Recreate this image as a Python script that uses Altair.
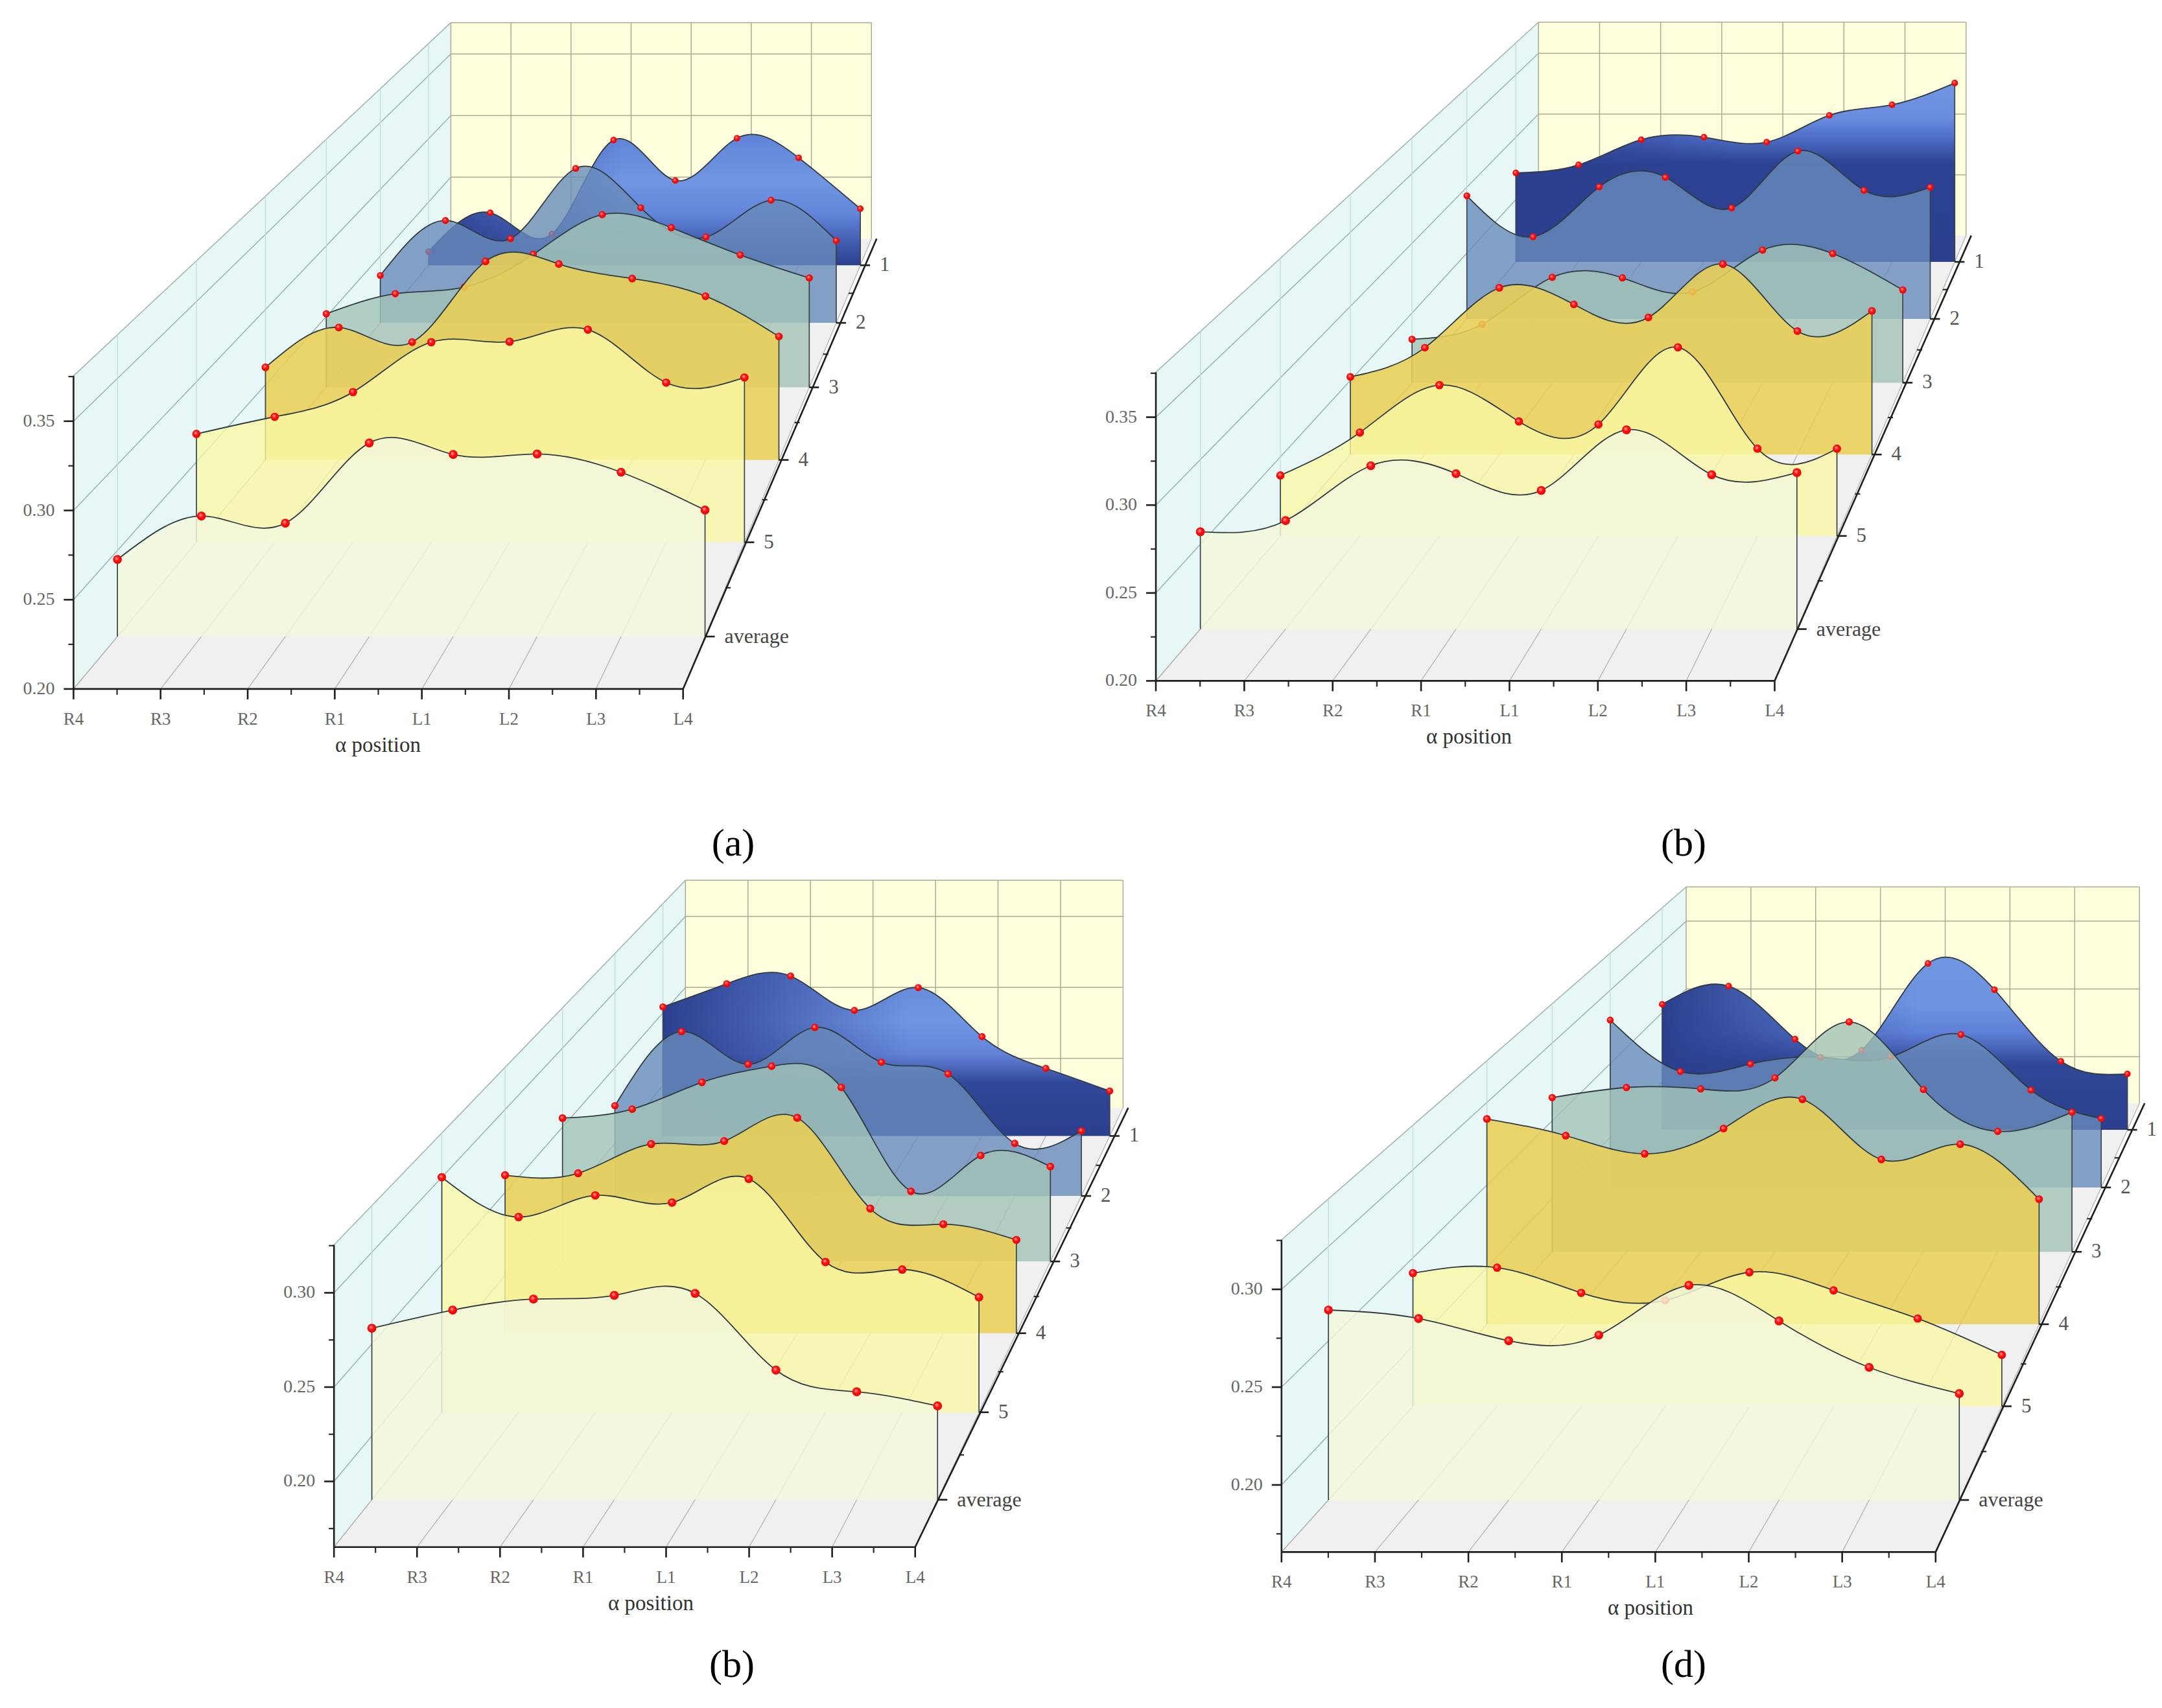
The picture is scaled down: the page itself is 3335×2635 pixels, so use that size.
import math
import altair as alt
import pandas as pd

POSITIONS = ["R4", "R3", "R2", "R1", "L1", "L2", "L3", "L4"]
SERIES = ["1", "2", "3", "4", "5", "average"]
PANEL_LABELS = ["(a)", "(b)", "(b)", "(d)"]

a_1 = [.2108, .2415, .2247, .2990, .2670, .3005, .2850, .2447]
a_2 = [.2355, .2767, .2631, .3157, .2862, .2643, .2919, .2616]
a_3 = [.2520, .2662, .2708, .2940, .3221, .3129, .2936, .2773]
a_4 = [.2616, .2881, .2784, .3320, .3303, .3206, .3089, .2821]
a_5 = [.2675, .2782, .2936, .3247, .3250, .3325, .2995, .3027]
a_avg = [.2448, .2700, .2659, .3125, .3058, .3061, .2955, .2735]

b_1 = [.2713, .2778, .2980, .3000, .2960, .3175, .3260, .3434]
b_2 = [.2935, .2624, .3003, .3076, .2843, .3275, .2977, .3000]
b_3 = [.2311, .2419, .2756, .2752, .2651, .2951, .2926, .2665]
b_4 = [.2524, .2721, .3125, .3013, .2925, .3285, .2833, .2969]
b_5 = [.2383, .2654, .2954, .2724, .2705, .3193, .2552, .2552]
b_avg = [.2574, .2640, .2964, .2917, .2818, .3176, .2911, .2923]

c_1 = [.2542, .2702, .2755, .2518, .2675, .2337, .2118, .1962]
c_2 = [.2248, .2738, .2522, .2765, .2535, .2458, .1999, .2082]
c_3 = [.2557, .2614, .2783, .2885, .2751, .2095, .2321, .2251]
c_4 = [.2604, .2616, .2792, .2810, .2950, .2403, .2309, .2214]
c_5 = [.3000, .2772, .2896, .2855, .2991, .2514, .2471, .2312]
c_avg = [.2586, .2685, .2745, .2765, .2776, .2358, .2240, .2163]

d_1 = [.2559, .2690, .2309, .2229, .2853, .2664, .2150, .2059]
d_2 = [.2797, .2447, .2498, .2543, .2546, .2698, .2320, .2127]
d_3 = [.2649, .2714, .2705, .2776, .3136, .2701, .2432, .2555]
d_4 = [.2900, .2799, .2689, .2842, .3019, .2655, .2747, .2414]
d_5 = [.2413, .2444, .2301, .2258, .2418, .2315, .2155, .1949]
d_avg = [.2664, .2619, .2501, .2531, .2795, .2606, .2360, .2221]

PANELS = [
    dict(ox=113.4, oy=1062.9, w=940.3, per=137.7, vmin=.20, vmax=.3754, vx=1991, vy=-1178, sb=.690,
         data=[a_1, a_2, a_3, a_4, a_5, a_avg],
         stops=[(0, "#5F83D8"), (.35, "#7196E2"), (.6, "#6386DA"), (.8, "#4462B6"), (1, "#2B3F8E")], fade=.45,
         label=(1131, 1302), title_x=583),
    dict(ox=1783, oy=1050.4, w=954.5, per=135.6, vmin=.20, vmax=.3756, vx=3693, vy=-1173, sb=.691,
         data=[b_1, b_2, b_3, b_4, b_5, b_avg],
         stops=[(0, "#7096E0"), (.2, "#6A8CE0"), (.3, "#4F6FC8"), (.45, "#2C4292"), (1, "#2B3F8E")], fade=.5,
         label=(2597, 1302), title_x=2266),
    dict(ox=515.2, oy=2386.7, w=896.5, per=145.5, vmin=.1652, vmax=.3254, vx=2710, vy=-356.7, sb=.753,
         data=[c_1, c_2, c_3, c_4, c_5, c_avg],
         stops=[(0, "#6487DC"), (.3, "#7096E2"), (.5, "#6282D8"), (.68, "#2F4796"), (1, "#2B3F8E")], fade=.55,
         label=(1129, 2569), title_x=1004),
    dict(ox=1976.8, oy=2394.4, w=1009, per=150.9, vmin=.1657, vmax=.3253, vx=4010, vy=139, sb=.693,
         data=[d_1, d_2, d_3, d_4, d_5, d_avg],
         stops=[(0, "#7096E2"), (.28, "#6E94E2"), (.44, "#5E7FD6"), (.62, "#2F4796"), (1, "#2B3F8E")], fade=.55,
         label=(2597, 2569), title_x=2546),
]

RIBBON = [None, ("#688BBA", .8), ("#A2C3B6", .8), ("#E9CF55", .88), ("#FAF8A6", .8), ("#F3F7DA", .85)]

xs = alt.Scale(domain=[8, 3327], nice=False, zero=False)
ys = alt.Scale(domain=[8, 2627], reverse=True, nice=False, zero=False)
X = alt.X("x:Q", scale=xs, axis=None)
Y = alt.Y("y:Q", scale=ys, axis=None)


def scale_at(p, d):
    return 1 / (1 + (1 / p["sb"] - 1) * d)


def px(p, u, d):
    return p["vx"] + (p["ox"] + u * p["w"] - p["vx"]) * scale_at(p, d)


def py(p, v, d):
    return p["vy"] + (p["oy"] - (v - p["vmin"]) / .05 * p["per"] - p["vy"]) * scale_at(p, d)


def rules(df, color, width):
    return alt.Chart(pd.DataFrame(df)).mark_rule(color=color, strokeWidth=width).encode(
        x=X, x2="x2:Q", y=Y, y2="y2:Q")


def texts(df, size, color, align):
    return alt.Chart(pd.DataFrame(df)).mark_text(
        font="Liberation Serif", fontSize=size, color=color, align=align, baseline="middle"
    ).encode(x=X, y=Y, text="t:N")


def seg(x, y, x2, y2):
    return dict(x=x, y=y, x2=x2, y2=y2)


layers = []
ball = alt.RadialGradient(
    gradient="radial", x1=.38, y1=.35, x2=.5, y2=.5, r1=0, r2=.62,
    stops=[alt.GradientStop(color="#FFB4B4", offset=0),
           alt.GradientStop(color="#FF1212", offset=.4),
           alt.GradientStop(color="#DC0000", offset=1)])

wall_grid, back_grid, floor_grid, depth_grid = [], [], [], []
edge, axis_major, axis_minor = [], [], []
tick_txt, depth_txt, avg_txt, title_txt, panel_txt, val_txt = [], [], [], [], [], []

for p in PANELS:
    vn, vt = p["vmin"], p["vmax"]
    bl, br = px(p, 0, 1), px(p, 1, 1)
    # walls and floor
    layers.append(alt.Chart(pd.DataFrame(dict(
        x=[p["ox"], bl], y=[py(p, vt, 0), py(p, vt, 1)], y2=[py(p, vn, 0), py(p, vn, 1)]
    ))).mark_area(color="#E6F7F5", opacity=1).encode(x=X, y=Y, y2="y2:Q"))
    layers.append(alt.Chart(pd.DataFrame(dict(
        x=[bl, br], y=[py(p, vt, 1)] * 2, y2=[py(p, vn, 1)] * 2
    ))).mark_area(color="#FFFFDD", opacity=1).encode(x=X, y=Y, y2="y2:Q"))
    layers.append(alt.Chart(pd.DataFrame(dict(
        y=[py(p, vn, 0), py(p, vn, 1)], x=[p["ox"], bl], x2=[p["ox"] + p["w"], br]
    ))).mark_area(color="#F0F0F0", opacity=1, orient="horizontal").encode(x=X, x2="x2:Q", y=Y))

    # gridlines
    majors = [v for v in (.20, .25, .30, .35) if vn - 1e-6 <= v <= vt]
    minors = [v for v in (.175, .225, .275, .325, .375) if vn <= v <= vt + .001]
    for v in majors:
        if v > vn + 1e-6:
            wall_grid.append(seg(p["ox"], py(p, v, 0), bl, py(p, v, 1)))
            back_grid.append(seg(bl, py(p, v, 1), br, py(p, v, 1)))
    for i in range(8):
        u = i / 7
        back_grid.append(seg(px(p, u, 1), py(p, vt, 1), px(p, u, 1), py(p, vn, 1)))
        floor_grid.append(seg(px(p, u, 0), py(p, vn, 0), px(p, u, 1), py(p, vn, 1)))
    back_grid.append(seg(bl, py(p, vt, 1), br, py(p, vt, 1)))
    wall_grid.append(seg(p["ox"], py(p, vt, 0), bl, py(p, vt, 1)))
    floor_grid.append(seg(p["ox"], py(p, vn, 0), bl, py(p, vn, 1)))
    for j in range(6):
        d = (11 - 2 * j) / 12
        depth_grid.append(seg(px(p, 0, d), py(p, vt, d), px(p, 0, d), py(p, vn, d)))

    # axes
    oy, ox, right = p["oy"], p["ox"], p["ox"] + p["w"]
    axis_major.append(seg(ox, oy, right, oy))
    axis_major.append(seg(ox, py(p, vt, 0), ox, oy))
    axis_major.append(seg(right, oy, br + 8, py(p, vn, 1)))
    for v in majors:
        axis_major.append(seg(ox - 15, py(p, v, 0), ox, py(p, v, 0)))
        val_txt.append(dict(x=ox - 29, y=py(p, v, 0), t=f"{v:.2f}"))
    for v in minors:
        axis_minor.append(seg(ox - 8, py(p, v, 0), ox, py(p, v, 0)))
    for i, name in enumerate(POSITIONS):
        xt = ox + i / 7 * p["w"]
        axis_major.append(seg(xt, oy, xt, oy + 16))
        tick_txt.append(dict(x=xt, y=oy + 47, t=name))
        if i < 7:
            axis_minor.append(seg(xt + p["w"] / 14, oy, xt + p["w"] / 14, oy + 9))
    for j, name in enumerate(SERIES):
        d = (11 - 2 * j) / 12
        xt, yt = px(p, 1, d), py(p, vn, d)
        axis_major.append(seg(xt, yt, xt + 15, yt))
        (avg_txt if name == "average" else depth_txt).append(dict(x=xt + 30, y=yt, t=name))
    for k in range(1, 6):
        d = 2 * k / 12
        axis_minor.append(seg(px(p, 1, d), py(p, vn, d), px(p, 1, d) + 8, py(p, vn, d)))
    title_txt.append(dict(x=p["title_x"], y=oy + 87, t="α position"))

layers.append(rules(floor_grid, "#B4B4B4", 1.3))
layers.append(rules(wall_grid, "#9DB2B2", 1.5))
layers.append(rules(depth_grid, "#C6DBD9", 1.3))
layers.append(rules(back_grid, "#ABAB96", 1.5))

for idx, p in enumerate(PANELS):
    panel_txt.append(dict(x=p["label"][0], y=p["label"][1], t=PANEL_LABELS[idx]))
    vn = p["vmin"]
    for j, name in enumerate(SERIES):
        d = (11 - 2 * j) / 12
        s = scale_at(p, d)
        vals = p["data"][j]
        df = pd.DataFrame(dict(
            x=[px(p, i / 7, d) for i in range(8)],
            y=[py(p, v, d) for v in vals],
            y2=[py(p, vn, d)] * 8,
            sz=[math.pi / 4 * (16 * s) ** 2] * 8,
        ))
        if j == 0:
            vert = alt.LinearGradient(
                gradient="linear", x1=0, x2=0, y1=0, y2=1,
                stops=[alt.GradientStop(color=c, offset=o) for o, c in p["stops"]])
            horiz = alt.LinearGradient(
                gradient="linear", x1=0, x2=1, y1=0, y2=0,
                stops=[alt.GradientStop(color="rgba(43,63,142,1)", offset=0),
                       alt.GradientStop(color="rgba(43,63,142,0)", offset=p["fade"]),
                       alt.GradientStop(color="rgba(43,63,142,0)", offset=1)])
            for g in (vert, horiz):
                layers.append(alt.Chart(df).mark_area(interpolate="natural", color=g, opacity=1).encode(
                    x=X, y=Y, y2="y2:Q"))
        else:
            col, op = RIBBON[j]
            layers.append(alt.Chart(df).mark_area(interpolate="natural", color=col, opacity=op).encode(
                x=X, y=Y, y2="y2:Q"))
        layers.append(alt.Chart(df).mark_line(
            interpolate="natural", color="#2F3A42", strokeWidth=1.8).encode(x=X, y=Y))
        layers.append(alt.Chart(df.iloc[[0, 7]]).mark_rule(color="#39424A", strokeWidth=1.7).encode(
            x=X, y=Y, y2="y2:Q"))
        layers.append(alt.Chart(df).mark_circle(color=ball, opacity=1).encode(
            x=X, y=Y, size=alt.Size("sz:Q", scale=None, legend=None)))

layers.append(rules(axis_minor, "#2A2A2A", 2.2))
layers.append(rules(axis_major, "#1E1E1E", 2.6))
layers.append(texts(tick_txt, 27, "#666666", "center"))
layers.append(texts(val_txt, 28, "#666666", "right"))
layers.append(texts(depth_txt, 31, "#555555", "left"))
layers.append(texts(avg_txt, 32, "#444444", "left"))
layers.append(texts(title_txt, 33, "#333333", "center"))
layers.append(texts(panel_txt, 60, "#000000", "center"))

chart = alt.layer(*layers).properties(
    width=3319, height=2619, padding=0, background="white",
    autosize=alt.AutoSizeParams(type="none"),
).configure_view(stroke=None)

chart.save("out.html", embed_options={"renderer": "svg", "actions": False})
